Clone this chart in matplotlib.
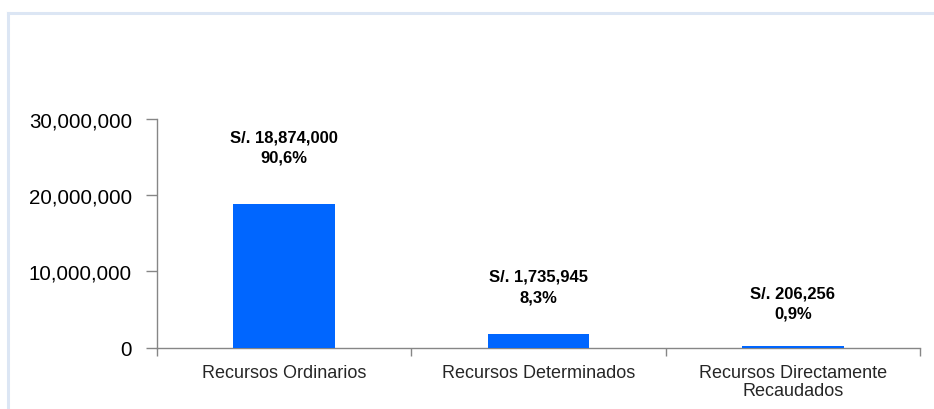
import matplotlib
matplotlib.use("Agg")
import matplotlib.pyplot as plt
from matplotlib.ticker import FuncFormatter, FixedLocator
from matplotlib.lines import Line2D

categories = ["Recursos Ordinarios", "Recursos Determinados", "Recursos Directamente\nRecaudados"]
values = [18874000, 1735945, 206256]
percent_labels = ["90,6%", "8,3%", "0,9%"]
amount_labels = ["S/. 18,874,000", "S/. 1,735,945", "S/. 206,256"]
y_ticks = [0, 10000000, 20000000, 30000000]

plt.rcParams['font.family'] = ['Liberation Sans', 'DejaVu Sans']

W, H, DPI = 934, 410, 100
fig = plt.figure(figsize=(W / DPI, H / DPI), dpi=DPI)
fig.patch.set_facecolor("white")

# Outer frame (light blue) at top and left
border_color = "#dce6f4"
fig.add_artist(Line2D([8 / W, 1.0], [1 - 13.5 / H, 1 - 13.5 / H], color=border_color, lw=2.2, transform=fig.transFigure))
fig.add_artist(Line2D([8 / W, 8 / W], [0, 1 - 13.5 / H], color=border_color, lw=2.2, transform=fig.transFigure))

left, right = 157 / W, 920 / W
bottom, top = 1 - 348.5 / H, 1 - 120 / H
ax = fig.add_axes([left, bottom, right - left, top - bottom])

x = list(range(len(categories)))
ax.bar(x, values, width=0.4, color="#0066ff", zorder=3)

ax.set_xlim(-0.5, len(categories) - 0.5)
ax.set_ylim(0, 30000000)

for s in ["top", "right"]:
    ax.spines[s].set_visible(False)
for s in ["left", "bottom"]:
    ax.spines[s].set_color("#868686")
    ax.spines[s].set_linewidth(1.0)

ax.yaxis.set_major_locator(FixedLocator(y_ticks))
ax.yaxis.set_major_formatter(FuncFormatter(lambda v, p: f"{int(v):,}"))
ax.tick_params(axis="y", direction="out", length=8, width=1.0, color="#868686",
               labelsize=14.8, labelcolor="#000000", pad=10)

# category boundary ticks
ax.set_xticks([i - 0.5 for i in range(len(categories) + 1)])
ax.set_xticklabels([])
ax.tick_params(axis="x", which="major", direction="out", length=6, width=1.0, color="#868686")
ax.set_xticks(x, minor=True)
ax.set_xticklabels(categories, minor=True, fontsize=13, color="#262626", linespacing=1.05)
ax.tick_params(axis="x", which="minor", length=0, pad=12)

label_offsets_px = [39, 30, 25]
for xi, v, a, p, off in zip(x, values, amount_labels, percent_labels, label_offsets_px):
    ax.annotate(f"{a}\n{p}", xy=(xi, v), xytext=(0, off * 72 / DPI), textcoords="offset points",
                ha="center", va="bottom", fontsize=12, fontweight="bold", color="#000000",
                linespacing=1.45)

fig.savefig("out.png", dpi=DPI, facecolor="white")
